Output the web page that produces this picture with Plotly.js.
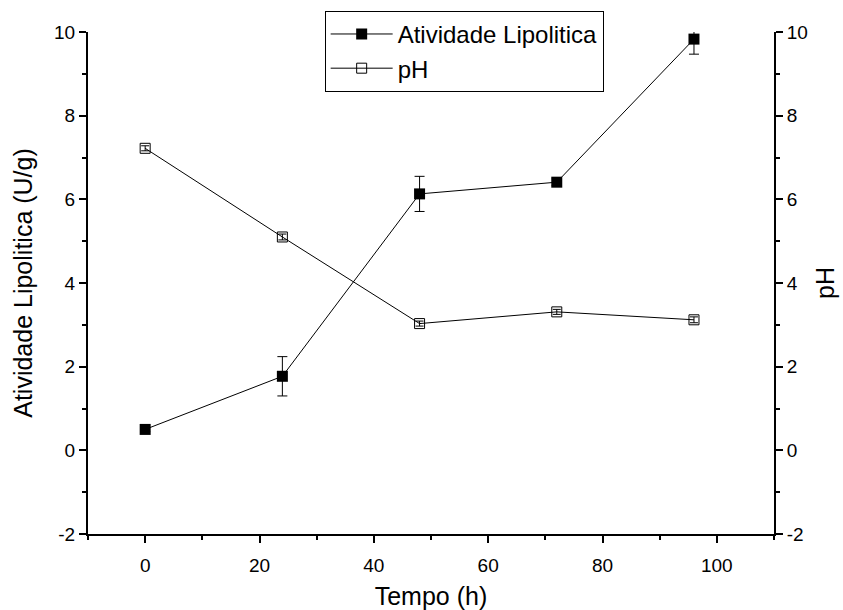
<!DOCTYPE html>
<html>
<head>
<meta charset="utf-8">
<script src="https://cdn.plot.ly/plotly-3.0.1.min.js"></script>
<style>html,body{margin:0;padding:0;background:#fff;}#chart{width:843px;height:610px;}</style>
</head>
<body>
<div id="chart"></div>
<script>
var tempo = [0, 24, 48, 72, 96];
var atividade = [0.50, 1.77, 6.13, 6.41, 9.83];
var atividadeErr = [0.05, 0.47, 0.42, 0.08, 0.36];
var ph = [7.22, 5.10, 3.03, 3.31, 3.12];
var phErr = [0.06, 0.07, 0.06, 0.06, 0.07];
var xTicks = [0, 20, 40, 60, 80, 100];
var yTicks = [-2, 0, 2, 4, 6, 8, 10];

var font = {family: '"Liberation Sans", Arial, sans-serif', color: '#000'};

var traces = [
  {
    x: tempo, y: atividade, name: 'Atividade Lipolitica', type: 'scatter', mode: 'lines+markers',
    line: {color: '#000', width: 1},
    marker: {symbol: 'square', size: 11, color: '#000'},
    error_y: {type: 'data', array: atividadeErr, visible: true, color: '#000', thickness: 1, width: 5}
  },
  {
    x: tempo, y: ph, name: 'pH', type: 'scatter', mode: 'lines+markers', yaxis: 'y2',
    line: {color: '#000', width: 1},
    marker: {symbol: 'square-open', size: 10, color: '#000', line: {width: 1}},
    error_y: {type: 'data', array: phErr, visible: true, color: '#000', thickness: 1, width: 4}
  }
];

var axisCommon = {
  showline: true, linecolor: '#000', linewidth: 2, showgrid: false, zeroline: false,
  ticks: 'outside', ticklen: 7, tickwidth: 2, tickcolor: '#000',
  tickfont: Object.assign({size: 19}, font)
};

var layout = {
  width: 843, height: 610,
  margin: {l: 88, r: 69, t: 31, b: 76},
  paper_bgcolor: '#fff', plot_bgcolor: '#fff',
  font: font,
  showlegend: true,
  legend: {
    x: 0.345, y: 1.04, xanchor: 'left', yanchor: 'top',
    bgcolor: '#fff', bordercolor: '#000', borderwidth: 1,
    font: Object.assign({size: 24}, font), itemwidth: 62, tracegroupgap: 0
  },
  xaxis: Object.assign({}, axisCommon, {
    range: [-10, 110], tickvals: xTicks, ticktext: xTicks.map(String),
    ticklabelstandoff: 6,
    minor: {dtick: 10, tick0: 0, ticks: 'outside', ticklen: 4, tickwidth: 2, tickcolor: '#000'},
    title: {text: 'Tempo (h)', font: Object.assign({size: 25}, font), standoff: 14}
  }),
  yaxis: Object.assign({}, axisCommon, {
    range: [-2, 10], tickvals: yTicks, ticktext: yTicks.map(String),
    minor: {dtick: 1, tick0: 0, ticks: 'outside', ticklen: 4, tickwidth: 2, tickcolor: '#000'},
    title: {text: 'Atividade Lipolitica (U/g)', font: Object.assign({size: 25}, font), standoff: 14}
  }),
  yaxis2: Object.assign({}, axisCommon, {
    range: [-2, 10], tickvals: yTicks, ticktext: yTicks.map(String),
    overlaying: 'y', side: 'right',
    minor: {dtick: 1, tick0: 0, ticks: 'outside', ticklen: 4, tickwidth: 2, tickcolor: '#000'},
    title: {text: 'pH', font: Object.assign({size: 25}, font), standoff: 10}
  })
};

Plotly.newPlot('chart', traces, layout, {displayModeBar: false, staticPlot: true});
</script>
</body>
</html>
